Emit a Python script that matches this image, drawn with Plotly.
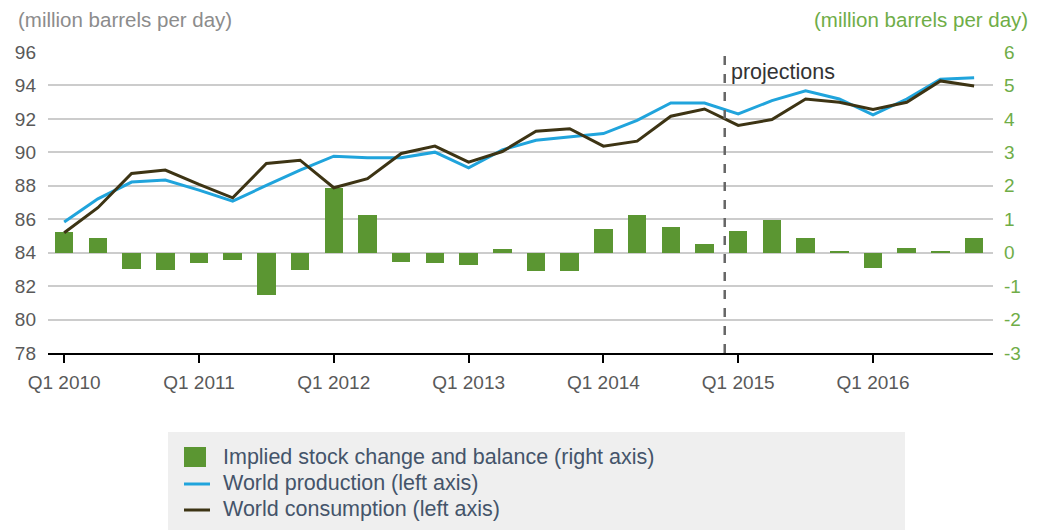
import plotly.graph_objects as go

quarters = [f"Q{q} {y}" for y in range(2010, 2017) for q in range(1, 5)]

production = [85.83, 87.22, 88.22, 88.34, 87.74, 87.08, 88.02, 88.94,
              89.77, 89.67, 89.67, 90.01, 89.07, 90.15, 90.72, 90.92,
              91.12, 91.91, 92.95, 92.95, 92.30, 93.09, 93.68, 93.19,
              92.24, 93.19, 94.37, 94.46]
consumption = [85.19, 86.69, 88.74, 88.94, 88.08, 87.28, 89.33, 89.53,
               87.88, 88.42, 89.93, 90.37, 89.41, 90.05, 91.26, 91.41,
               90.37, 90.67, 92.16, 92.59, 91.61, 91.96, 93.19, 92.99,
               92.56, 92.99, 94.27, 93.97]
balance = [0.63, 0.45, -0.48, -0.53, -0.32, -0.22, -1.26, -0.53,
           1.92, 1.12, -0.27, -0.32, -0.38, 0.10, -0.55, -0.55,
           0.71, 1.14, 0.78, 0.25, 0.66, 0.98, 0.43, 0.03,
           -0.45, 0.13, 0.03, 0.43]

tick_labels = ["Q1 2010", "Q1 2011", "Q1 2012", "Q1 2013", "Q1 2014", "Q1 2015", "Q1 2016"]
left_ticks = [78, 80, 82, 84, 86, 88, 90, 92, 94, 96]
right_ticks = [-3, -2, -1, 0, 1, 2, 3, 4, 5, 6]
legend_names = ["Implied stock change and balance (right axis)",
                "World production (left axis)",
                "World consumption (left axis)"]

FONT = "Arial, Liberation Sans, sans-serif"
GREEN = "#5b9632"
BLUE = "#20a4dc"
BROWN = "#3d3414"
LEGEND_TXT = "#44546a"

fig = go.Figure()

# bars on base axis (right side), lines overlaid on top (left side)
fig.add_trace(go.Bar(x=quarters, y=balance, marker=dict(color=GREEN, line=dict(width=0)),
                     width=0.55, yaxis="y", name=legend_names[0]))
fig.add_trace(go.Scatter(x=quarters, y=production, mode="lines",
                         line=dict(color=BLUE, width=3), yaxis="y2",
                         name=legend_names[1]))
fig.add_trace(go.Scatter(x=quarters, y=consumption, mode="lines",
                         line=dict(color=BROWN, width=3), yaxis="y2",
                         name=legend_names[2]))

# page body has an 8px default margin; work in page pixel coordinates
O = 8
W, H = 1045 - O, 530 - O
L, R, T, B = 48 - O, 993 - O, 52 - O, 353 - O
pw, ph = R - L, B - T

def px(x):
    return (x - O - L) / pw

def py(y):
    return (B - (y - O)) / ph

shapes = [
    dict(type="rect", xref="paper", yref="paper",
         x0=px(168), x1=px(905), y0=py(432), y1=py(545),
         fillcolor="#efefef", line=dict(width=0), layer="below"),
    dict(type="line", xref="x", yref="paper", x0=19.6, x1=19.6, y0=0, y1=1,
         line=dict(color="#666666", width=2.5, dash="dash")),
    dict(type="rect", xref="paper", yref="paper",
         x0=px(184), x1=px(206), y0=py(447), y1=py(467),
         fillcolor=GREEN, line=dict(width=0)),
    dict(type="line", xref="paper", yref="paper",
         x0=px(184), x1=px(210), y0=py(484), y1=py(484),
         line=dict(color=BLUE, width=3)),
    dict(type="line", xref="paper", yref="paper",
         x0=px(184), x1=px(210), y0=py(510), y1=py(510),
         line=dict(color=BROWN, width=3)),
]
legend_rows_y = [457, 483, 509]
annotations = [
    dict(text="(million barrels per day)", xref="paper", yref="paper",
         x=px(17), y=py(20), xanchor="left", yanchor="middle", showarrow=False,
         borderpad=0, font=dict(size=20.5, color="#8c8c8c")),
    dict(text="(million barrels per day)", xref="paper", yref="paper",
         x=px(1029), y=py(20), xanchor="right", yanchor="middle", showarrow=False,
         borderpad=0, font=dict(size=20.5, color="#6fad47")),
    dict(text="projections", xref="x", yref="paper",
         x=19.6, y=py(72), xanchor="left", yanchor="middle", xshift=4,
         showarrow=False, font=dict(size=21.5, color="#333333")),
]
for name, yy in zip(legend_names, legend_rows_y):
    annotations.append(dict(text=name, xref="paper", yref="paper",
                            x=px(221), y=py(yy), xanchor="left", yanchor="middle",
                            showarrow=False, font=dict(size=21.5, color=LEGEND_TXT)))

fig.update_layout(
    width=W, height=H,
    margin=dict(l=L, r=W - R, t=T, b=H - B, autoexpand=False),
    paper_bgcolor="white", plot_bgcolor="white",
    font=dict(family=FONT, size=19, color="#595959"),
    showlegend=False,
    bargap=0,
    xaxis=dict(type="category", range=[-0.48, 27.56],
               tickmode="array", tickvals=tick_labels, ticktext=tick_labels,
               ticks="outside", ticklen=8, tickwidth=2, tickcolor="black",
               ticklabelstandoff=3,
               showline=True, linecolor="black", linewidth=2,
               showgrid=False, zeroline=False,
               tickfont=dict(size=19, color="#595959")),
    yaxis=dict(side="right", range=[-3, 6], tickvals=right_ticks,
               ticktext=[str(v) for v in right_ticks],
               showgrid=True, gridcolor="#cccccc", gridwidth=1.5,
               zeroline=False, showline=False, ticks="",
               ticklabelstandoff=10,
               tickfont=dict(size=19, color="#6fad47")),
    yaxis2=dict(side="left", overlaying="y", range=[78, 96], tickvals=left_ticks,
                ticktext=[str(v) for v in left_ticks],
                showgrid=False, zeroline=False, showline=False, ticks="",
                ticklabelstandoff=11,
                tickfont=dict(size=19, color="#595959")),
    shapes=shapes,
    annotations=annotations,
)

fig.write_html("out.html")
